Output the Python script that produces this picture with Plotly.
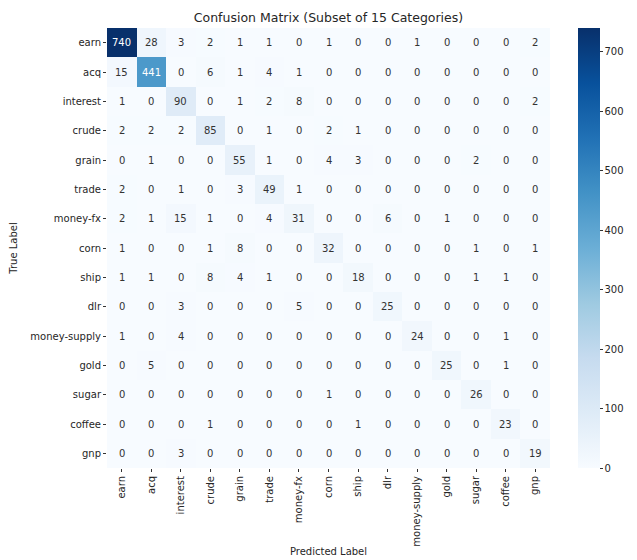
import plotly.graph_objects as go

categories = ["earn", "acq", "interest", "crude", "grain", "trade", "money-fx",
              "corn", "ship", "dlr", "money-supply", "gold", "sugar", "coffee", "gnp"]

# rows = true label, columns = predicted label
row_earn = [740, 28, 3, 2, 1, 1, 0, 1, 0, 0, 1, 0, 0, 0, 2]
row_acq = [15, 441, 0, 6, 1, 4, 1, 0, 0, 0, 0, 0, 0, 0, 0]
row_interest = [1, 0, 90, 0, 1, 2, 8, 0, 0, 0, 0, 0, 0, 0, 2]
row_crude = [2, 2, 2, 85, 0, 1, 0, 2, 1, 0, 0, 0, 0, 0, 0]
row_grain = [0, 1, 0, 0, 55, 1, 0, 4, 3, 0, 0, 0, 2, 0, 0]
row_trade = [2, 0, 1, 0, 3, 49, 1, 0, 0, 0, 0, 0, 0, 0, 0]
row_money_fx = [2, 1, 15, 1, 0, 4, 31, 0, 0, 6, 0, 1, 0, 0, 0]
row_corn = [1, 0, 0, 1, 8, 0, 0, 32, 0, 0, 0, 0, 1, 0, 1]
row_ship = [1, 1, 0, 8, 4, 1, 0, 0, 18, 0, 0, 0, 1, 1, 0]
row_dlr = [0, 0, 3, 0, 0, 0, 5, 0, 0, 25, 0, 0, 0, 0, 0]
row_money_supply = [1, 0, 4, 0, 0, 0, 0, 0, 0, 0, 24, 0, 0, 1, 0]
row_gold = [0, 5, 0, 0, 0, 0, 0, 0, 0, 0, 0, 25, 0, 1, 0]
row_sugar = [0, 0, 0, 0, 0, 0, 0, 1, 0, 0, 0, 0, 26, 0, 0]
row_coffee = [0, 0, 0, 1, 0, 0, 0, 0, 1, 0, 0, 0, 0, 23, 0]
row_gnp = [0, 0, 3, 0, 0, 0, 0, 0, 0, 0, 0, 0, 0, 0, 19]

matrix = [row_earn, row_acq, row_interest, row_crude, row_grain, row_trade,
          row_money_fx, row_corn, row_ship, row_dlr, row_money_supply,
          row_gold, row_sugar, row_coffee, row_gnp]

colorbar_ticks = [0, 100, 200, 300, 400, 500, 600, 700]

blues = ["#f7fbff", "#deebf7", "#c6dbef", "#9ecae1", "#6baed6",
         "#4292c6", "#2171b5", "#08519c", "#08306b"]
colorscale = [[i / (len(blues) - 1), c] for i, c in enumerate(blues)]

zmax = max(max(r) for r in matrix)
FONT = "DejaVu Sans"

fig = go.Figure(go.Heatmap(
    z=matrix, x=categories, y=categories,
    colorscale=colorscale, zmin=0, zmax=zmax,
    xgap=0, ygap=0, hoverinfo="skip",
    colorbar=dict(
        x=1.063, xanchor="left", xpad=0, ypad=0,
        y=0.5, yanchor="middle", len=1.0,
        thickness=22, outlinewidth=0,
        tickvals=colorbar_ticks, ticks="outside", ticklen=3,
        tickcolor="#333", tickfont=dict(family=FONT, size=10, color="#262626"),
    ),
))

# cell annotations: light text on dark cells, dark text elsewhere
annotations = []
for i, row in enumerate(matrix):
    for j, v in enumerate(row):
        annotations.append(dict(
            x=categories[j], y=categories[i], text=str(v), showarrow=False,
            font=dict(family=FONT, size=10,
                      color="white" if v > zmax * 0.5 else "#333333"),
        ))

fig.update_layout(
    width=637, height=560,
    margin=dict(l=107, r=87, t=28, b=92),
    paper_bgcolor="white", plot_bgcolor="white",
    title=dict(text="Confusion Matrix (Subset of 15 Categories)",
               x=(107 + 550) / 2 / 637, xanchor="center", y=1 - 18 / 560, yanchor="middle",
               font=dict(family=FONT, size=12.5, color="#262626")),
    annotations=annotations,
    font=dict(family=FONT, size=10, color="#262626"),
)

fig.update_xaxes(
    title=dict(text="Predicted Label", font=dict(family=FONT, size=10), standoff=2),
    tickangle=-90, ticks="outside", ticklen=3, tickcolor="#333",
    showgrid=False, zeroline=False, showline=False, automargin=False,
    tickfont=dict(family=FONT, size=10),
)
fig.update_yaxes(
    title=dict(text="True Label", font=dict(family=FONT, size=10), standoff=10),
    autorange="reversed", ticks="outside", ticklen=3, tickcolor="#333",
    showgrid=False, zeroline=False, showline=False, automargin=False,
    tickfont=dict(family=FONT, size=10),
)

fig.write_html("out.html")
